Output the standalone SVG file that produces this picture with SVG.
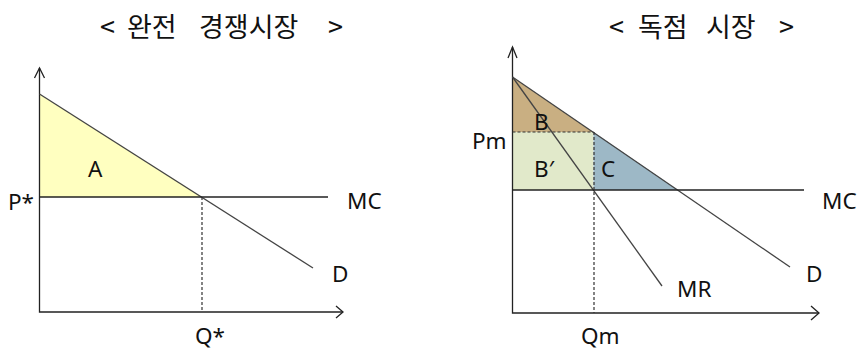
<svg xmlns="http://www.w3.org/2000/svg" width="862" height="353" viewBox="0 0 862 353">
<style>
.t{font-family:"Noto Sans CJK KR","Noto Sans",sans-serif;font-size:27px;fill:#111}
.l{font-family:"Noto Sans","Liberation Sans",sans-serif;font-size:22.5px;fill:#111}
.ln{stroke:#444;stroke-width:1.3;fill:none}
.ax{stroke:#222;stroke-width:1.3;fill:none}
.ds{stroke:#333;stroke-width:1.2;stroke-dasharray:3 2;fill:none}
</style>
<rect width="862" height="353" fill="#fff"/>
<g id="title-left">
<text class="t" x="100" y="37">&lt;</text>
<text class="t" x="127" y="37">완전</text>
<text class="t" x="199" y="37">경쟁시장</text>
<text class="t" x="328" y="37">&gt;</text>
</g>
<g id="title-right">
<text class="t" x="609" y="37">&lt;</text>
<text class="t" x="638" y="37">독점</text>
<text class="t" x="706" y="37">시장</text>
<text class="t" x="779" y="37">&gt;</text>
</g>
<g id="area-A"><polygon points="39.5,94 202,197 39.5,197" fill="#FFFFC0"/></g>
<g id="area-B"><polygon points="512.5,77 593,132 512.5,132" fill="#C9AF82"/></g>
<g id="area-Bp"><rect x="512.5" y="132" width="81" height="58" fill="#E1E9CA"/></g>
<g id="area-C"><polygon points="593.5,132 678,190 593.5,190" fill="#9DB8C6"/></g>
<g id="connectors">
<path class="ax" d="M39.5,68 V312 H343"/>
<path class="ax" d="M34.5,78 L39.5,68 L44.5,78 M336,306 L343,312 L336,318"/>
<path class="ln" d="M39.5,94 L313,268"/>
<path class="ax" d="M39.5,197 H328"/>
<path class="ds" d="M202,197 V312"/>
<path class="ax" d="M512.5,47 V313 H819"/>
<path class="ax" d="M508,58 L512.5,47 L517,58 M811,306 L819,313 L811,320"/>
<path class="ln" d="M512.5,77 L790,267"/>
<path class="ln" d="M512.5,77 L662,286" stroke="#555"/>
<path class="ax" d="M512.5,190 H804"/>
<path class="ds" d="M512.5,132 H593.5"/>
<path class="ds" d="M594,132 V313"/>
</g>
<g id="labels-left">
<text class="l" x="8" y="210">P*</text>
<text class="l" x="88" y="177">A</text>
<text class="l" x="347" y="209">MC</text>
<text class="l" x="332" y="282">D</text>
<text class="l" x="195" y="344">Q*</text>
</g>
<g id="labels-right">
<text class="l" x="472" y="149">Pm</text>
<text class="l" x="534" y="130">B</text>
<text class="l" x="534" y="177">B′</text>
<text class="l" x="601" y="177">C</text>
<text class="l" x="822" y="209">MC</text>
<text class="l" x="806" y="282">D</text>
<text class="l" x="677" y="297">MR</text>
<text class="l" x="581" y="344">Qm</text>
</g>
</svg>
